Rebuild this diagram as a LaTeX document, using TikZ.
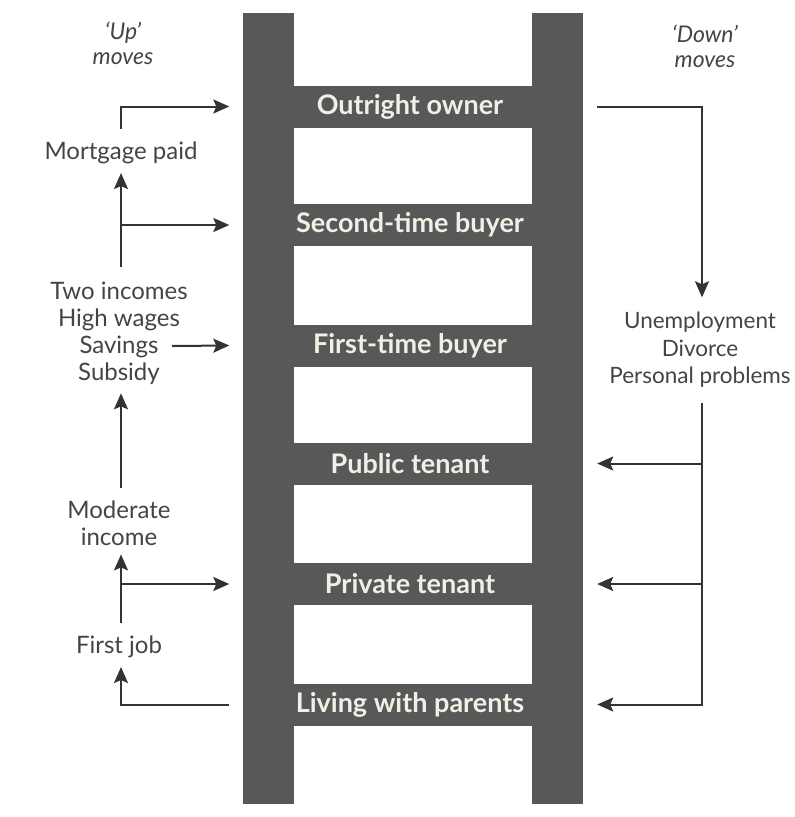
\documentclass[tikz,border=0pt]{standalone}
\usepackage{fontspec}
\setmainfont{Lato}
\usetikzlibrary{arrows.meta}
\definecolor{ladder}{HTML}{585858}
\definecolor{ink}{HTML}{444444}
\definecolor{lineink}{HTML}{333333}
\definecolor{rungtext}{HTML}{F2EFE6}
\begin{document}
\begin{tikzpicture}[x=1pt,y=-1pt,
  rail/.style={fill=ladder, draw=none, minimum width=51pt, minimum height=791pt, inner sep=0pt, anchor=north},
  rung/.style={fill=ladder, draw=none, minimum width=245pt, minimum height=42pt, inner sep=0pt, text=rungtext, font=\fontsize{27}{29}\selectfont\bfseries},
  lbl/.style={text=ink, font=\fontsize{24}{27}\selectfont, align=center, inner sep=0pt, outer ysep=9pt},
  hdr/.style={text=ink, font=\fontsize{23}{25}\selectfont\itshape, align=center, inner sep=0pt},
  conn/.style={draw=lineink, line width=2pt},
  arr/.style={conn, -{Stealth[length=16pt,width=14pt,inset=3pt]}}
]
\useasboundingbox (0,0) rectangle (795,817);
% ladder
\node[rail] (lrail) at (268,13) {};
\node[rail] (rrail) at (557.5,13) {};
\node[rung] (r1) at (410,106.5) {Outright owner};
\node[rung] (r2) at (410,225) {Second-time buyer};
\node[rung] (r3) at (410,345.5) {First-time buyer};
\node[rung] (r4) at (410,463.5) {Public tenant};
\node[rung] (r5) at (410,584) {Private tenant};
\node[rung] (r6) at (410,704.5) {Living with parents};
% headers
\node[hdr] (uph) at (123,43) {`Up'\\moves};
\node[hdr] (downh) at (705,46) {`Down'\\moves};
% left labels
\node[lbl] (mort) at (121,153) {Mortgage paid};
\node[lbl] (two) at (119,333) {Two incomes\\High wages\\Savings\\Subsidy};
\node[lbl] (mod) at (119,523) {Moderate\\income};
\node[lbl] (fj) at (119,647) {First job};
% right label
\node[lbl, outer ysep=15pt, font=\fontsize{22.5}{27.5}\selectfont] (unemp) at (700,350) {Unemployment\\Divorce\\Personal problems};
% helper coordinates
\coordinate (vx) at (121,0);
\coordinate (dx) at (702,0);
\coordinate (sv) at (172,346);
\foreach \i in {1,...,6}{
  \coordinate (u\i) at ([xshift=-13pt]lrail.west |- r\i);
  \coordinate (d\i) at ([xshift=14pt]rrail.east |- r\i);
}
% up moves
\draw[arr, shorten <=4pt] (mort.north -| vx) |- (u1);
\draw[arr, shorten <=6pt] (two.north -| vx) -- (mort.south -| vx);
\draw[arr] (vx |- u2) -- (u2);
\draw[arr] (sv) -- (u3);
\draw[arr, shorten <=4pt] (mod.north -| vx) -- (two.south -| vx);
\draw[arr, shorten <=4pt] (fj.north -| vx) -- (mod.south -| vx);
\draw[arr] (vx |- u5) -- (u5);
\draw[arr] (u6) -| (fj.south -| vx);
% down moves
\draw[arr] (d1) -| (unemp.north -| dx);
\draw[arr] (unemp.south -| dx) |- (d6);
\draw[arr] (dx |- d4) -- (d4);
\draw[arr] (dx |- d5) -- (d5);
\end{tikzpicture}
\end{document}
